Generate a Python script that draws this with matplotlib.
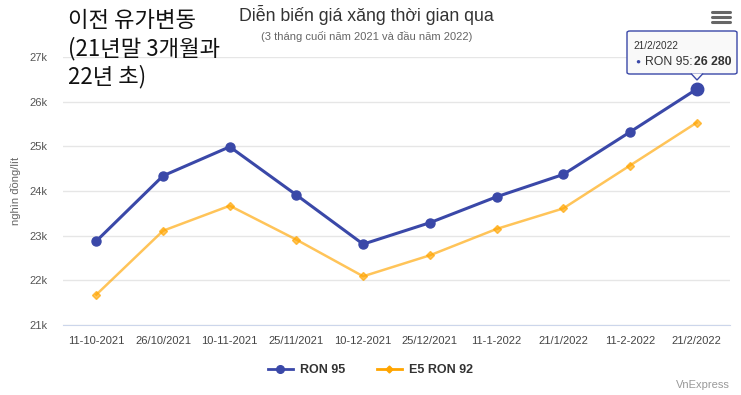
import matplotlib
matplotlib.use("Agg")
import matplotlib.pyplot as plt
from matplotlib.patches import FancyBboxPatch, Polygon
from matplotlib.lines import Line2D

plt.rcParams['font.family'] = ['Liberation Sans', 'DejaVu Sans']

dates = ['11-10-2021', '26/10/2021', '10-11-2021', '25/11/2021', '10-12-2021',
         '25/12/2021', '11-1-2022', '21/1/2022', '11-2-2022', '21/2/2022']
ron95 = [22880, 24340, 24990, 23910, 22810, 23290, 23870, 24370, 25320, 26280]
e5_ron92 = [21680, 23110, 23670, 22910, 22090, 22560, 23150, 23610, 24570, 25530]
yticks = [21000, 22000, 23000, 24000, 25000, 26000, 27000]
ytick_labels = ['21k', '22k', '23k', '24k', '25k', '26k', '27k']

blue = '#3a48a8'
orange = '#ffa500'

fig = plt.figure(figsize=(7.41, 3.95), dpi=100)
ax = fig.add_axes([63/741, 1 - 325/395, 667/741, 268/395])

x = list(range(len(dates)))
ax.plot(x, e5_ron92, color=orange, alpha=0.65, lw=1.8, marker='D', ms=4,
        zorder=3)
ax.plot(x, ron95, color=blue, lw=2.2, marker='o', ms=6.5, zorder=4)
# hovered point
ax.plot(x[-1], ron95[-1], 'o', color=blue, ms=9, zorder=5)

ax.set_xlim(-0.5, len(dates) - 0.5)
ax.set_ylim(21000, 27000)
ax.set_yticks(yticks)
ax.set_yticklabels(ytick_labels)
ax.set_xticks(x)
ax.set_xticklabels(dates)
ax.grid(axis='y', color='#e6e6e6', lw=1)
ax.set_axisbelow(True)
for s in ['top', 'right', 'left']:
    ax.spines[s].set_visible(False)
ax.spines['bottom'].set_color('#ccd6eb')
ax.tick_params(axis='x', length=0, labelsize=8, colors='#444444', pad=8)
ax.tick_params(axis='y', length=0, labelsize=8, colors='#555555', pad=11)
ax.set_ylabel('nghìn đồng/lít', fontsize=8, color='#666666', labelpad=6)

# titles
fig.text(0.495, 0.962, 'Diễn biến giá xăng thời gian qua', ha='center',
         va='center', fontsize=12.8, color='#333333')
fig.text(0.495, 0.908, '(3 tháng cuối năm 2021 và đầu năm 2022)', ha='center',
         va='center', fontsize=8, color='#666666')

# korean note
fig.text(68/741, 1 - 9/395, '이전 유가변동\n(21년말 3개월과\n22년 초)', ha='left',
         va='top', fontsize=16, linespacing=1.25,
         family=['Noto Sans CJK KR', 'DejaVu Sans'], fontweight='light',
         color='#111111')

# hamburger icon
for yy in [12, 17, 22]:
    fig.add_artist(Line2D([712/741, 730/741], [1 - yy/395, 1 - yy/395],
                          color='#666666', lw=2.2, solid_capstyle='round'))

# tooltip
bx0, by0, bx1, by1 = 627, 31, 737, 74
tip = FancyBboxPatch((bx0/741, 1 - by1/395), (bx1 - bx0)/741, (by1 - by0)/395,
                     boxstyle='round,pad=0,rounding_size=0.004',
                     transform=fig.transFigure, facecolor='#f9f9f9',
                     edgecolor=blue, lw=1, zorder=10)
fig.add_artist(tip)
arrow = Polygon([[691/741, 1 - 73.5/395], [697/741, 1 - 80/395],
                 [703/741, 1 - 73.5/395]], closed=False,
                transform=fig.transFigure, facecolor='#f9f9f9',
                edgecolor=blue, lw=1, zorder=11)
fig.add_artist(arrow)
fig.text(633/741, 1 - 46/395, dates[-1], fontsize=7.2, color='#333333',
         va='center', zorder=12)
fig.text(635/741, 1 - 62/395, '●', fontsize=6, color=blue, va='center',
         zorder=12)
fig.text(645/741, 1 - 62/395, 'RON 95:', fontsize=8.8, color='#333333',
         va='center', zorder=12)
fig.text(731/741, 1 - 62/395, '26 280', fontsize=8.8, color='#333333',
         va='center', ha='right', fontweight='bold', zorder=12)

# legend
h1 = Line2D([], [], color=blue, lw=2, marker='o', ms=5.5)
h2 = Line2D([], [], color=orange, lw=2, marker='D', ms=3.5)
leg = fig.legend([h1, h2], ['RON 95', 'E5 RON 92'], loc='center',
                 bbox_to_anchor=(0.5, 1 - 370/395), ncol=2, frameon=False,
                 prop={'size': 9, 'weight': 'bold'}, handlelength=2,
                 columnspacing=2.5, handletextpad=0.6)
for t in leg.get_texts():
    t.set_color('#333333')

fig.text(730/741, 1 - 385/395, 'VnExpress', ha='right', va='center',
         fontsize=8, color='#999999')

fig.savefig('out.png', dpi=100)
